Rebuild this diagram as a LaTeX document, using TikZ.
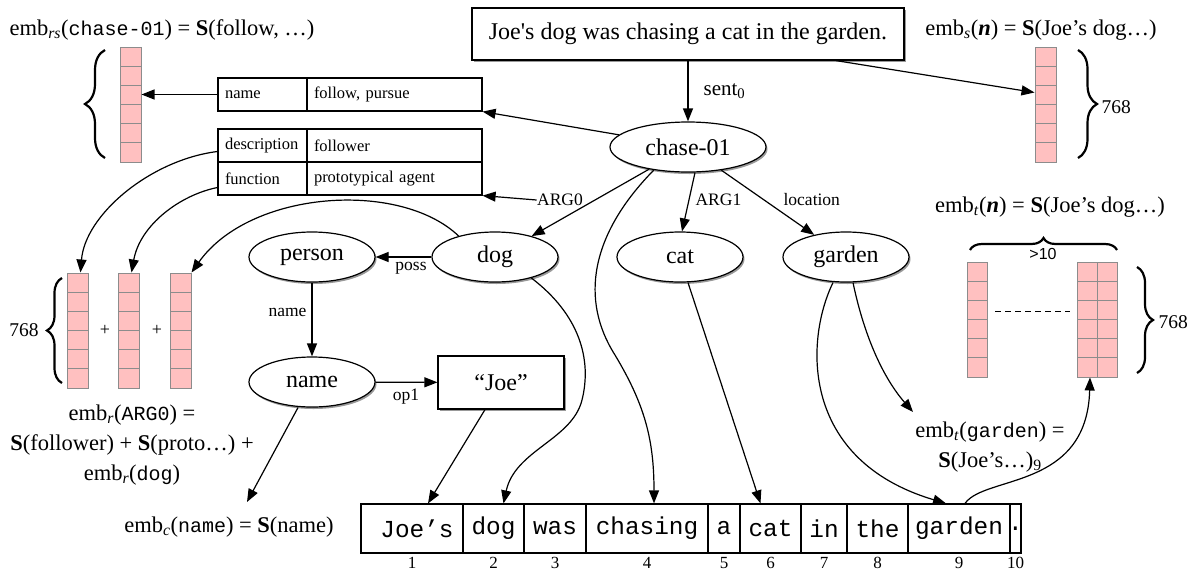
\documentclass[tikz,border=0pt]{standalone}
\usepackage{fontspec}
\setmainfont{Liberation Serif}
\setsansfont{Liberation Sans}
\setmonofont{Liberation Mono}
\usetikzlibrary{shapes.geometric,arrows.meta,decorations.pathreplacing,shadows}

\definecolor{cellpink}{RGB}{255,192,192}
\definecolor{cellgray}{RGB}{140,140,140}

\newcommand\setfs[1]{\fontsize{#1}{#1}\selectfont}
\newcommand\sbs[1]{\textsubscript{\textit{#1}}}
\newcommand\eqtt[1]{{\ttfamily\fontsize{20}{20}\selectfont #1}}

% one embedding vector: name, left x, top y, width (six cells)
\newcommand\pinkcol[4]{%
  \node[colbox, minimum width=#4] (#1) at (#2+#4/2, #3+57.5) {};
  \foreach \k in {1,...,5}{\draw[cellgray, line width=1pt] (#2,#3+\k*19.1667) -- ++(#4,0);}
}

\tikzset{
  amr/.style={ellipse, draw, fill=white, line width=1.2pt, minimum width=126, minimum height=50,
    inner sep=0pt, font={\setfs{24}},
    drop shadow={shadow xshift=1.5pt, shadow yshift=-2pt, opacity=0.4, fill=black}},
  plainbox/.style={rectangle, draw, fill=white, line width=1.2pt, inner sep=0pt, font={\setfs{24}},
    drop shadow={shadow xshift=1.5pt, shadow yshift=-2pt, opacity=0.4, fill=black}},
  arr/.style={-{Triangle[length=13pt,width=10pt]}, line width=1.2pt},
  elbl/.style={inner sep=0pt, font={\setfs{17.5}}},
  tkey/.style={rectangle, draw, line width=1.2pt, inner xsep=7pt, inner ysep=0pt, minimum height=33,
    text width=75pt, align=left, font={\setfs{16.5}}},
  tval/.style={tkey, text width=161pt},
  tok/.style={rectangle, draw, line width=1.2pt, minimum height=49, inner sep=0pt,
    font={\ttfamily\setfs{24.4}}},
  numlbl/.style={inner sep=0pt, font={\setfs{17}}},
  colbox/.style={rectangle, draw=cellgray, fill=cellpink, line width=1pt, inner sep=0pt, minimum height=115},
  brc/.style={decorate, line width=2.2pt},
  eq/.style={inner sep=0pt, font={\fontsize{22.5}{30}\selectfont}, align=center},
  dim/.style={inner sep=0pt, font={\setfs{19.5}}},
}

\begin{document}
\begin{tikzpicture}[x=1pt, y=-1pt, line width=1.2pt]
\useasboundingbox (0,0) rectangle (1194,571);

% sentence and graph nodes
\node[plainbox, minimum width=432, minimum height=52] (sent) at (688,34)
  {Joe\textquotesingle s dog was chasing a cat in the garden.};
\node[amr, minimum width=156] (chase) at (688,147) {chase-01};
\node[amr] (dog) at (495,257) {dog};
\node[amr] (person) at (312,257) {person};
\node[amr] (cat) at (680,257) {cat};
\node[amr] (garden) at (846,257) {garden};
\node[amr] (name) at (312,382) {name};
\node[plainbox, minimum width=126, minimum height=53] (joe) at (501,382.5) {“Joe”};

% edge labels
\node[elbl, anchor=west, font={\setfs{21}}] (lsent) at (703,91) {sent\textsubscript{0}};
\node[elbl] (larg0) at (560,200) {ARG0};
\node[elbl, anchor=west] (larg1) at (695,200) {ARG1};
\node[elbl, anchor=west] (lloc) at (783,200) {location};
\node[elbl] (lposs) at (411,268) {poss};
\node[elbl, anchor=east] (lname) at (307,312) {name};
\node[elbl] (lop) at (406,397) {op1};

% frame tables
\node[tkey] (tname) at (262.5,94.5) {name};
\node[tval] (tnameval) at (394.5,94.5) {follow, pursue};
\node[tkey] (tdesc) at (262.5,145.5) {description};
\node[tval] (tdescval) at (394.5,145.5) {follower};
\node[tkey] (tfunc) at (262.5,178.5) {function};
\node[tval] (tfuncval) at (394.5,178.5) {prototypical agent};

% embedding vectors
\pinkcol{vrs}{120}{47}{21}
\pinkcol{vs}{1035}{47}{21}
\pinkcol{va}{67}{273}{21}
\pinkcol{vb}{118}{273}{21}
\pinkcol{vc}{170}{273}{21}
\pinkcol{mL}{967}{262}{20}
\pinkcol{mR}{1077}{262}{20}
\pinkcol{mRR}{1097}{262}{20}
\draw[line width=1pt, dash pattern=on 6pt off 4pt] (995,311) -- (1070,311);
\node[inner sep=0pt, font={\setfs{18}}] (plusa) at (105,330) {+};
\node[inner sep=0pt, font={\setfs{18}}] (plusb) at (157,330) {+};

% braces and sizes
\draw[brc, decoration={brace, amplitude=20pt}] (105,158) -- (105,50);
\draw[brc, decoration={brace, amplitude=19pt}] (1078,50) -- (1078,158);
\draw[brc, decoration={brace, amplitude=15pt}] (62,383) -- (62,278);
\draw[brc, decoration={brace, amplitude=12pt}] (970,250) -- (1117,250);
\draw[brc, decoration={brace, amplitude=16pt}] (1137,267) -- (1137,373);
\node[dim, anchor=west] (dimA) at (1101,107) {768};
\node[dim] (dimB) at (24,330) {768};
\node[dim, anchor=west] (dimC) at (1158,322) {768};
\node[inner sep=0pt, font={\sffamily\setfs{16}}] (dimD) at (1043,254) {>10};

% formulas
\node[eq] (lrs) at (162,30) {emb\sbs{rs}(\eqtt{chase-01}) = \textbf{S}(follow, …)};
\node[eq] (ls) at (1041,30) {emb\sbs{s}(\textbf{\textit{n}}) = \textbf{S}(Joe’s dog…)};
\node[eq] (lt) at (1050,207) {emb\sbs{t}(\textbf{\textit{n}}) = \textbf{S}(Joe’s dog…)};
\node[eq] (lr) at (132,445) {emb\sbs{r}(\eqtt{ARG0}) =\\ \textbf{S}(follower) + \textbf{S}(proto…) +\\ emb\sbs{r}(\eqtt{dog})};
\node[eq] (lc) at (229,527) {emb\sbs{c}(\eqtt{name}) = \textbf{S}(name)};
\node[eq] (ltg) at (990,447) {emb\sbs{t}(\eqtt{garden}) =\\ \textbf{S}(Joe’s…)\textsubscript{9}};
\coordinate (ltgin) at (913,412);
\coordinate (lcin) at (247,502);

% tokens
\node[tok, minimum width=102] (tk1) at (412,528.5) {\hspace*{10pt}Joe’s};
\node[tok, minimum width=61] (tk2) at (493.5,528.5) {dog};
\node[tok, minimum width=62] (tk3) at (555,528.5) {was};
\node[tok, minimum width=122] (tk4) at (647,528.5) {chasing};
\node[tok, minimum width=32] (tk5) at (724,528.5) {a};
\node[tok, minimum width=61] (tk6) at (770.5,528.5) {cat};
\node[tok, minimum width=46] (tk7) at (824,528.5) {in};
\node[tok, minimum width=61] (tk8) at (877.5,528.5) {the};
\node[tok, minimum width=102] (tk9) at (959,528.5) {garden};
\node[tok, minimum width=11] (tk10) at (1015.5,528.5) {\makebox[0pt]{.}};
\foreach \i/\x in {1/412,2/493.5,3/555,4/647,5/724,6/770.5,7/824,8/877.5,9/959,10/1015.5}
  \node[numlbl] (num\i) at (\x,563) {\i};

% graph edges
\draw[arr] (sent.south) -- (chase.north);
\draw[arr] ([xshift=148pt]sent.south) -- ([yshift=12pt]vs.west);
\draw[arr] (chase.170) -- (tnameval.south east);
\draw[arr] (larg0.west) -- (tfuncval.south east);
\draw[arr] (chase) -- (dog);
\draw[arr] ([xshift=7pt]chase.south) -- ([xshift=2pt]cat.north);
\draw[arr] (chase) -- (garden);
\draw[arr] (dog) -- (person);
\draw[arr] (person) -- (name);
\draw[arr] (name) -- (joe);

% edges into the embeddings
\draw[arr] (tname.west) -- (tname.west -| vrs.east);
\draw[arr] ([yshift=-6pt]tdesc.west) .. controls (150,160) and (85,215) .. ([xshift=3pt]va.north);
\draw[arr] ([yshift=-9pt]tfunc.west) .. controls (180,195) and (140,225) .. ([xshift=3pt]vb.north);
\draw[arr] (dog.150) .. controls (400,180) and (250,190) .. (vc.north east);
\draw[arr] ([xshift=-14pt]name.south) -- (lcin);
\draw[arr] ([xshift=7pt]garden.south) .. controls (865,340) and (885,380) .. (ltgin);
\draw[arr] ([xshift=6pt]tk9.north) .. controls (985,475) and (1087,490) .. ([xshift=3pt]mR.south);

% alignment to tokens
\draw[arr] ([xshift=-16pt]joe.south) -- ([xshift=16pt]tk1.north);
\draw[arr] (dog.-30) .. controls (580,315) and (592,360) .. (582,400)
  .. controls (572,440) and (515,450) .. ([xshift=10pt]tk2.north);
\draw[arr] (chase.214) .. controls (590,235) and (580,300) .. (615,355)
  .. controls (645,405) and (654,440) .. ([xshift=7pt]tk4.north);
\draw[arr] ([xshift=8pt]cat.south) -- ([xshift=-10pt]tk6.north);
\draw[arr] ([xshift=-13pt]garden.south) .. controls (805,340) and (800,460) .. ([xshift=-13pt]tk9.north);
\end{tikzpicture}
\end{document}
